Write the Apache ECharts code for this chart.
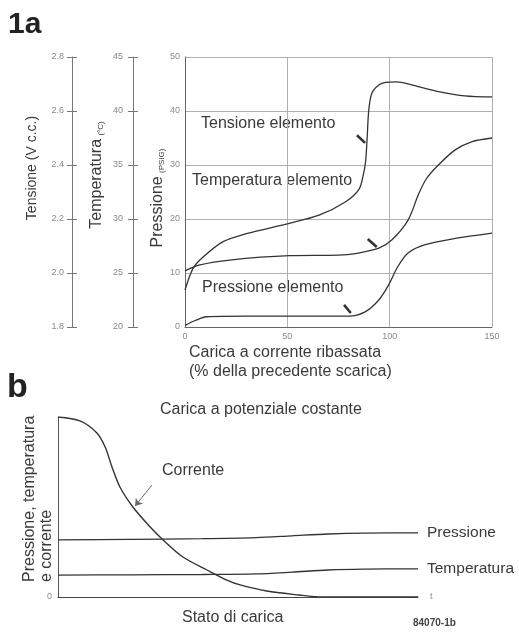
<!DOCTYPE html>
<html><head><meta charset="utf-8">
<script src="https://cdn.jsdelivr.net/npm/echarts@6/dist/echarts.min.js"></script>
<style>html,body{margin:0;padding:0;background:#fff}#c{width:519px;height:635px}</style>
</head><body><div id="c"></div>
<script>
// ---- Figure 1a : charge at reduced current (x = % of previous discharge)
const tensioneX = [0, 4, 9, 18.6, 30, 51, 65.5, 78.5, 85, 87, 88.2, 89, 89.8, 91.3, 94.7, 98, 103.4, 114, 123.8, 136.7, 150];
const tensioneV = [1.937, 2.018, 2.06, 2.116, 2.146, 2.184, 2.214, 2.264, 2.31, 2.36, 2.41, 2.50, 2.604, 2.666, 2.696, 2.706, 2.708, 2.69, 2.672, 2.656, 2.652];
const temperaturaX = [0, 7.3, 21.8, 51, 75, 83.3, 94.7, 101, 109, 114, 118, 123.8, 132, 140, 150];
const temperaturaC = [25.2, 25.75, 26.2, 26.6, 26.65, 26.8, 27.3, 28.05, 29.9, 32.25, 33.75, 35, 36.4, 37.15, 37.5];
const pressioneX = [0, 5, 10.5, 30, 51, 70, 80, 88, 94.7, 99.5, 104, 109, 117, 132, 150];
const pressionePSIG = [0.3, 1.2, 1.9, 2.0, 2.0, 2.0, 2.0, 2.8, 5, 7.8, 11.2, 13.7, 15.2, 16.4, 17.4];
const xTicks1a = [0, 50, 100, 150];
const tensioneTicks = [1.8, 2.0, 2.2, 2.4, 2.6, 2.8];
const temperaturaTicks = [20, 25, 30, 35, 40, 45];
const pressioneTicks = [0, 10, 20, 30, 40, 50];
// ---- Figure 1b : charge at constant potential (relative units)
const bX = [0, 20, 40, 55, 65, 75, 85, 100];
const bPressione = [31.7, 32, 32.4, 33, 34, 35, 35.5, 35.6];
const bTemperatura = [12.2, 12.3, 12.5, 12.8, 13.8, 15, 15.5, 15.6];
const correnteX = [0, 6.1, 10.8, 13.1, 15, 17.2, 20.8, 25.6, 29.2, 34.7, 41.4, 46.9, 50.6, 58, 67, 72, 100];
const correnteY = [100, 97.8, 91.1, 83.3, 72.2, 61.1, 50, 38.9, 31.7, 22.2, 15, 9.4, 6.7, 3.3, 1.1, 0.2, 0];

const pairs = (xs, ys) => xs.map((x, i) => [x, ys[i]]);
const FONT = 'Liberation Sans';
const INK = '#333';
const TXT = '#3a3a3a';
const TICK = '#8a8a8a';
const GRID = '#b0b0b0';
const SMOOTH = 0.3;

const lineStyleBase = { color: INK, width: 1.3 };
const tickLabel = { color: TICK, fontSize: 9, fontFamily: FONT };

function arrow(a, b, w) {
  return {
    silent: true, symbol: ['none', 'none'], label: { show: false },
    lineStyle: { color: INK, width: w || 2.6, type: 'solid' },
    data: [[{ coord: a }, { coord: b }]]
  };
}

const chart = echarts.init(document.getElementById('c'), null, { renderer: 'canvas' });
chart.setOption({
  animation: false,
  backgroundColor: '#fff',
  grid: [
    { left: 185, right: 27, top: 57, bottom: 308 },
    { left: 58, right: 101, top: 417, bottom: 38 }
  ],
  xAxis: [
    { type: 'value', gridIndex: 0, min: xTicks1a[0], max: xTicks1a[xTicks1a.length - 1], interval: 50,
      axisLine: { lineStyle: { color: '#666', width: 1 } }, axisTick: { show: false },
      axisLabel: Object.assign({ margin: 5 }, tickLabel),
      splitLine: { show: true, lineStyle: { color: GRID, width: 1 } } },
    { type: 'value', gridIndex: 1, min: 0, max: 100,
      axisLine: { lineStyle: { color: '#444', width: 1.2 } }, axisTick: { show: false },
      axisLabel: { show: false }, splitLine: { show: false },
      name: 't', nameLocation: 'end', nameGap: 12, nameTextStyle: { color: TICK, fontSize: 9, fontFamily: FONT } }
  ],
  yAxis: [
    { type: 'value', gridIndex: 0, min: pressioneTicks[0], max: pressioneTicks[5], interval: 10, position: 'left',
      axisLine: { show: true, lineStyle: { color: '#666' } }, axisTick: { show: false },
      axisLabel: Object.assign({ margin: 5 }, tickLabel),
      splitLine: { show: true, lineStyle: { color: GRID, width: 1 } } },
    { type: 'value', gridIndex: 0, min: tensioneTicks[0], max: tensioneTicks[5], interval: 0.2, position: 'left', offset: 113,
      axisLine: { show: true, lineStyle: { color: '#777' } },
      axisTick: { show: true, length: 5, lineStyle: { color: '#777' } },
      axisLabel: Object.assign({ margin: 8, formatter: v => v.toFixed(1) }, tickLabel),
      splitLine: { show: false } },
    { type: 'value', gridIndex: 0, min: tensioneTicks[0], max: tensioneTicks[5], interval: 0.2, position: 'left', offset: 113,
      axisLine: { show: false }, axisTick: { show: true, inside: true, length: 5, lineStyle: { color: '#777' } },
      axisLabel: { show: false }, splitLine: { show: false } },
    { type: 'value', gridIndex: 0, min: temperaturaTicks[0], max: temperaturaTicks[5], interval: 5, position: 'left', offset: 52,
      axisLine: { show: true, lineStyle: { color: '#777' } },
      axisTick: { show: true, length: 5, lineStyle: { color: '#777' } },
      axisLabel: Object.assign({ margin: 10 }, tickLabel),
      splitLine: { show: false } },
    { type: 'value', gridIndex: 0, min: temperaturaTicks[0], max: temperaturaTicks[5], interval: 5, position: 'left', offset: 52,
      axisLine: { show: false }, axisTick: { show: true, inside: true, length: 5, lineStyle: { color: '#777' } },
      axisLabel: { show: false }, splitLine: { show: false } },
    { type: 'value', gridIndex: 1, min: 0, max: 100, interval: 100,
      axisLine: { show: true, lineStyle: { color: '#555' } }, axisTick: { show: false },
      axisLabel: Object.assign({ margin: 6, formatter: v => (v === 0 ? '0' : '') }, tickLabel),
      splitLine: { show: false } }
  ],
  series: [
    { name: 'Tensione elemento', type: 'line', xAxisIndex: 0, yAxisIndex: 1, data: pairs(tensioneX, tensioneV),
      smooth: SMOOTH, showSymbol: false, symbol: 'none', lineStyle: lineStyleBase,
      markLine: arrow([84, 2.51], [88, 2.482]) },
    { name: 'Temperatura elemento', type: 'line', xAxisIndex: 0, yAxisIndex: 3, data: pairs(temperaturaX, temperaturaC),
      smooth: SMOOTH, showSymbol: false, symbol: 'none', lineStyle: lineStyleBase,
      markLine: arrow([89.3, 28.15], [93.7, 27.4]) },
    { name: 'Pressione elemento', type: 'line', xAxisIndex: 0, yAxisIndex: 0, data: pairs(pressioneX, pressionePSIG),
      smooth: SMOOTH, showSymbol: false, symbol: 'none', lineStyle: lineStyleBase,
      markLine: arrow([77.7, 4.1], [81, 2.6]) },
    { name: 'Corrente', type: 'line', xAxisIndex: 1, yAxisIndex: 5, data: pairs(correnteX, correnteY),
      smooth: SMOOTH, showSymbol: false, symbol: 'none', lineStyle: { color: INK, width: 1.4 },
      markLine: { silent: true, symbol: ['none', 'arrow'], symbolSize: 7, label: { show: false },
        lineStyle: { color: '#666', width: 1, type: 'solid' },
        data: [[{ coord: [26.1, 62.2] }, { coord: [21.4, 50.5] }]] } },
    { name: 'Pressione', type: 'line', xAxisIndex: 1, yAxisIndex: 5, data: pairs(bX, bPressione),
      smooth: SMOOTH, showSymbol: false, symbol: 'none', lineStyle: lineStyleBase,
      endLabel: { show: true, formatter: 'Pressione', distance: 9, color: TXT, fontSize: 15.5, fontFamily: FONT } },
    { name: 'Temperatura', type: 'line', xAxisIndex: 1, yAxisIndex: 5, data: pairs(bX, bTemperatura),
      smooth: SMOOTH, showSymbol: false, symbol: 'none', lineStyle: lineStyleBase,
      endLabel: { show: true, formatter: 'Temperatura', distance: 9, color: TXT, fontSize: 15.5, fontFamily: FONT } }
  ],
  graphic: [
    { type: 'text', left: 8, top: 10, style: { text: '1a', font: 'bold 30px ' + FONT, fill: '#222' } },
    { type: 'text', left: 7, top: 371, style: { text: 'b', font: 'bold 34px ' + FONT, fill: '#222' } },
    { type: 'text', x: 32, y: 168, rotation: Math.PI / 2,
      style: { text: 'Tensione (V c.c.)', font: '14px ' + FONT, fill: TXT, align: 'center', verticalAlign: 'middle' } },
    { type: 'text', x: 97, y: 175, rotation: Math.PI / 2,
      style: { text: '{m|Temperatura} {s|(°C)}', align: 'center', verticalAlign: 'middle', fill: TXT,
        rich: { m: { fontSize: 16, fontFamily: FONT, fill: TXT }, s: { fontSize: 8, fontFamily: FONT, fill: TXT, verticalAlign: 'bottom' } } } },
    { type: 'text', x: 158, y: 198, rotation: Math.PI / 2,
      style: { text: '{m|Pressione} {s|(PSIG)}', align: 'center', verticalAlign: 'middle', fill: TXT,
        rich: { m: { fontSize: 16, fontFamily: FONT, fill: TXT }, s: { fontSize: 8, fontFamily: FONT, fill: TXT, verticalAlign: 'bottom' } } } },
    { type: 'text', x: 201, y: 124, style: { text: 'Tensione elemento', font: '16px ' + FONT, fill: TXT, verticalAlign: 'middle' } },
    { type: 'text', x: 192, y: 181, style: { text: 'Temperatura elemento', font: '16px ' + FONT, fill: TXT, verticalAlign: 'middle' } },
    { type: 'text', x: 202, y: 288, style: { text: 'Pressione elemento', font: '16px ' + FONT, fill: TXT, verticalAlign: 'middle' } },
    { type: 'text', x: 189, y: 353, style: { text: 'Carica a corrente ribassata', font: '16px ' + FONT, fill: TXT, verticalAlign: 'middle' } },
    { type: 'text', x: 189, y: 372, style: { text: '(% della precedente scarica)', font: '16px ' + FONT, fill: TXT, verticalAlign: 'middle' } },
    { type: 'text', x: 160, y: 410, style: { text: 'Carica a potenziale costante', font: '16px ' + FONT, fill: TXT, verticalAlign: 'middle' } },
    { type: 'text', x: 162, y: 471, style: { text: 'Corrente', font: '16px ' + FONT, fill: TXT, verticalAlign: 'middle' } },
    { type: 'text', x: 38, y: 582, rotation: Math.PI / 2,
      style: { text: 'Pressione, temperatura\ne corrente', font: '16px ' + FONT, fill: TXT, align: 'left', verticalAlign: 'middle', lineHeight: 17 } },
    { type: 'text', x: 182, y: 618, style: { text: 'Stato di carica', font: '16px ' + FONT, fill: TXT, verticalAlign: 'middle' } },
    { type: 'text', x: 413, y: 623, style: { text: '84070-1b', font: 'bold 10px ' + FONT, fill: '#444', verticalAlign: 'middle' } }
  ]
});
</script></body></html>
